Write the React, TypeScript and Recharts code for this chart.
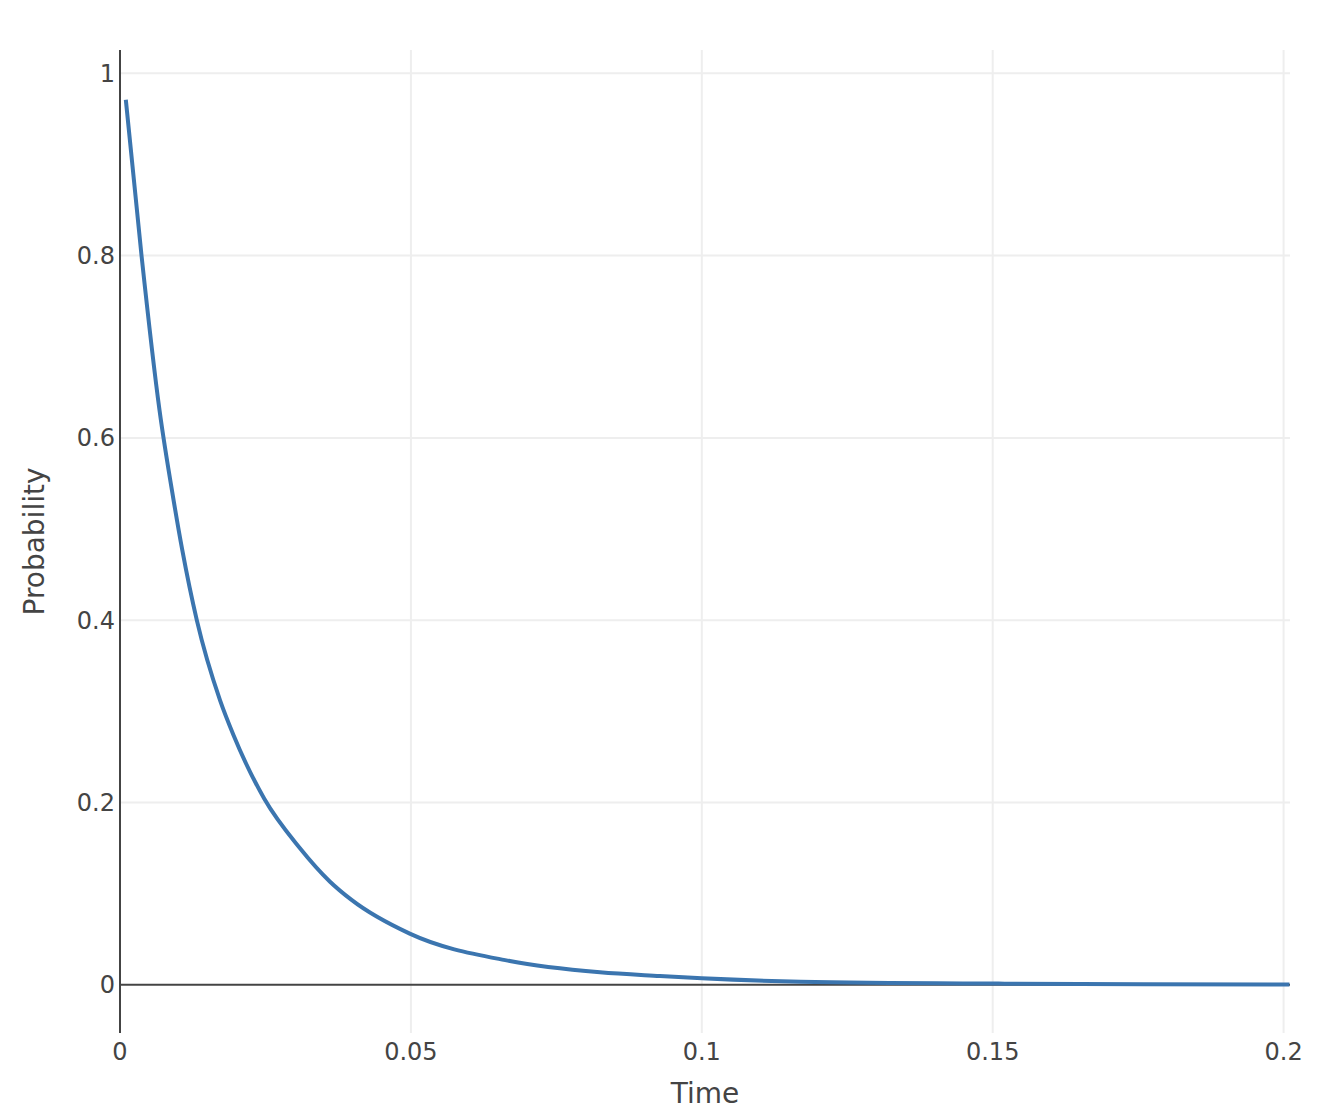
import React from 'react'
import { LineChart, Line, XAxis, YAxis, ReferenceLine } from 'recharts'

// values
const times = [
  0.001, 0.0037, 0.0068, 0.0092, 0.0107, 0.0132, 0.0172, 0.0195, 0.0248, 0.0309,
  0.0361, 0.0398, 0.0498, 0.067, 0.0825, 0.0928, 0.1, 0.117, 0.151, 0.176, 0.201,
]
const probabilities = [
  0.971, 0.8, 0.63, 0.532, 0.477, 0.4, 0.312, 0.274, 0.204, 0.15, 0.113, 0.093,
  0.056, 0.026, 0.0136, 0.0095, 0.007, 0.0033, 0.0012, 0.0005, 0.0002,
]
const xTicks = [0, 0.05, 0.1, 0.15, 0.2]
const yTicks = [0, 0.2, 0.4, 0.6, 0.8, 1]

const rows = times.map((t, i) => ({ t, p: probabilities[i] }))

const FONT = "'DejaVu Sans', Verdana, sans-serif"
const TEXT = '#444'
const GRID = '#eeeeee'

const YTitle = ({ viewBox }: any) => {
  const x = viewBox.x + 35.5
  const y = viewBox.y + viewBox.height / 2
  return (
    <text
      x={x}
      y={y}
      transform={`rotate(-90, ${x}, ${y})`}
      textAnchor='middle'
      fill={TEXT}
      fontSize={28}
      fontFamily={FONT}
    >
      Probability
    </text>
  )
}

const XTitle = ({ viewBox }: any) => (
  <text
    x={viewBox.x + viewBox.width / 2}
    y={viewBox.y + 70}
    textAnchor='middle'
    fill={TEXT}
    fontSize={28}
    fontFamily={FONT}
  >
    Time
  </text>
)

const App = () => {
  return (
    <LineChart
      width={1304}
      height={1102}
      data={rows}
      margin={{ top: 42, right: 22, left: 0, bottom: 0 }}
    >
      <XAxis
        type='number'
        dataKey='t'
        domain={[0, 0.2011]}
        ticks={xTicks}
        allowDataOverflow
        axisLine={false}
        tickLine={false}
        tickSize={0}
        tickMargin={10}
        height={77}
        tick={{ fill: TEXT, fontSize: 24, fontFamily: FONT }}
        label={<XTitle />}
      />
      <YAxis
        type='number'
        domain={[-0.053, 1.0256]}
        ticks={yTicks}
        allowDataOverflow
        axisLine={{ stroke: TEXT, strokeWidth: 2 }}
        tickLine={false}
        tickSize={0}
        tickMargin={5}
        width={112}
        tick={{ fill: TEXT, fontSize: 24, fontFamily: FONT }}
        label={<YTitle />}
      />
      {xTicks
        .filter((v) => v !== 0)
        .map((v) => (
          <ReferenceLine key={'gx' + v} x={v} stroke={GRID} strokeWidth={2} />
        ))}
      {yTicks
        .filter((v) => v !== 0)
        .map((v) => (
          <ReferenceLine key={'gy' + v} y={v} stroke={GRID} strokeWidth={2} />
        ))}
      <ReferenceLine y={0} stroke={TEXT} strokeWidth={2} />
      <Line
        type='monotone'
        dataKey='p'
        stroke='#3b75af'
        strokeWidth={4}
        dot={false}
        isAnimationActive={false}
      />
    </LineChart>
  )
}

export default App
